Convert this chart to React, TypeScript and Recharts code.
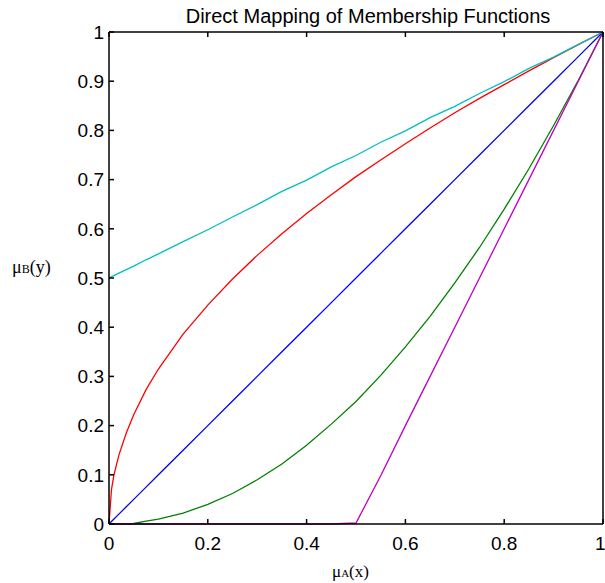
import React from 'react';
import { LineChart, Line, XAxis, YAxis } from 'recharts';

// membership grades
const muA = [0, 0.005, 0.01, 0.02, 0.035, 0.05, 0.075, 0.1, 0.15, 0.2, 0.25, 0.3, 0.35, 0.4, 0.45, 0.5, 0.55, 0.6, 0.65, 0.7, 0.75, 0.8, 0.85, 0.9, 0.95, 1];
const cyanMu = [0.5, 0.503, 0.505, 0.51, 0.517, 0.524, 0.537, 0.549, 0.574, 0.598, 0.624, 0.649, 0.676, 0.699, 0.726, 0.749, 0.776, 0.799, 0.826, 0.849, 0.875, 0.899, 0.926, 0.949, 0.975, 1];
const redMu = [0, 0.07, 0.1, 0.14, 0.185, 0.222, 0.273, 0.315, 0.386, 0.445, 0.498, 0.546, 0.59, 0.631, 0.669, 0.706, 0.74, 0.773, 0.805, 0.836, 0.865, 0.893, 0.921, 0.948, 0.974, 1];
const blueMu = [0, 0.005, 0.01, 0.02, 0.035, 0.05, 0.075, 0.1, 0.15, 0.2, 0.25, 0.3, 0.35, 0.4, 0.45, 0.5, 0.55, 0.6, 0.65, 0.7, 0.75, 0.8, 0.85, 0.9, 0.95, 1];
const greenMu = [0, 0, 0, 0, 0, 0.001, 0.006, 0.01, 0.022, 0.04, 0.062, 0.09, 0.122, 0.16, 0.203, 0.249, 0.302, 0.36, 0.422, 0.49, 0.562, 0.64, 0.722, 0.81, 0.902, 1];
const magentaMu = [0, 0, 0, 0, 0, 0, 0, 0, 0, 0, 0, 0, 0, 0, 0, 0.002, 0.098, 0.2, 0.3, 0.4, 0.5, 0.6, 0.7, 0.8, 0.9, 1];

const xTicks = [0, 0.2, 0.4, 0.6, 0.8, 1];
const yTicks = [0, 0.1, 0.2, 0.3, 0.4, 0.5, 0.6, 0.7, 0.8, 0.9, 1];

const data = muA.map((x, i) => ({
  x,
  cyan: cyanMu[i],
  red: redMu[i],
  blue: blueMu[i],
  green: greenMu[i],
  magenta: magentaMu[i],
}));

const fmt = (v: number) => String(Math.round(v * 10) / 10);
const none = () => '';
const tickStyle = { fill: '#000', fontSize: 19, fontFamily: 'Liberation Sans, Arial, sans-serif' };
const axisStyle = { stroke: '#000', strokeWidth: 1.5 };

export default function App() {
  return (
    <div style={{ position: 'absolute', left: 0, top: 0, width: 605, height: 583, background: '#fff' }}>
      <LineChart width={605} height={583} data={data} margin={{ top: 31, right: 0, bottom: 0, left: 0 }}>
        <XAxis xAxisId='bottom' dataKey='x' type='number' domain={[0, 1]} ticks={xTicks} tickFormatter={fmt}
          height={59} tickSize={-5} tickMargin={18} axisLine={axisStyle} tickLine={axisStyle} tick={tickStyle} />
        <XAxis xAxisId='top' orientation='top' dataKey='x' type='number' domain={[0, 1]} ticks={xTicks}
          tickFormatter={none} height={1} tickSize={-5} axisLine={axisStyle} tickLine={axisStyle} />
        <YAxis yAxisId='left' type='number' domain={[0, 1]} ticks={yTicks} tickFormatter={fmt}
          width={109} tickSize={-5} tickMargin={10} axisLine={axisStyle} tickLine={axisStyle} tick={tickStyle} />
        <YAxis yAxisId='right' orientation='right' type='number' domain={[0, 1]} ticks={yTicks}
          tickFormatter={none} width={2} tickSize={-5} axisLine={axisStyle} tickLine={axisStyle} />
        <Line xAxisId='bottom' yAxisId='left' dataKey='red' stroke='#ff0000' strokeWidth={1.3} dot={false} isAnimationActive={false} />
        <Line xAxisId='bottom' yAxisId='left' dataKey='blue' stroke='#0000ff' strokeWidth={1.3} dot={false} isAnimationActive={false} />
        <Line xAxisId='bottom' yAxisId='left' dataKey='green' stroke='#008000' strokeWidth={1.3} dot={false} isAnimationActive={false} />
        <Line xAxisId='bottom' yAxisId='left' dataKey='magenta' stroke='#bf00bf' strokeWidth={1.3} dot={false} isAnimationActive={false} />
        <Line xAxisId='bottom' yAxisId='left' dataKey='cyan' stroke='#00bfbf' strokeWidth={1.3} dot={false} isAnimationActive={false} />
      </LineChart>
      <div style={{ position: 'absolute', left: 0, width: 736, top: 4, textAlign: 'center', fontFamily: 'Liberation Sans, Arial, sans-serif', fontSize: 20, lineHeight: '24px', color: '#000', whiteSpace: 'nowrap' }}>
        Direct Mapping of Membership Functions
      </div>
      <div style={{ position: 'absolute', left: 12, top: 256, fontFamily: 'Liberation Serif, Times New Roman, serif', fontSize: 18, lineHeight: '22px', color: '#000', whiteSpace: 'nowrap' }}>
        μ<span style={{ fontSize: 12 }}>B</span>(y)
      </div>
      <div style={{ position: 'absolute', left: 332, top: 562, fontFamily: 'Liberation Serif, Times New Roman, serif', fontSize: 17, lineHeight: '20px', color: '#000', whiteSpace: 'nowrap' }}>
        μ<span style={{ fontSize: 11 }}>A</span>(x)
      </div>
    </div>
  );
}
